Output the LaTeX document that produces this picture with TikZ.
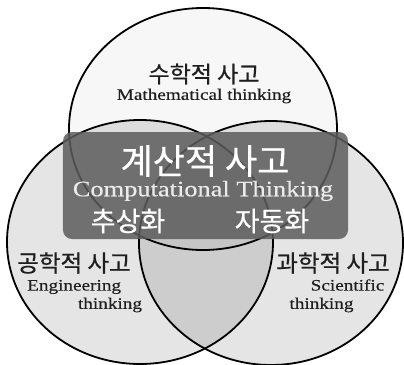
\documentclass[tikz,border=0pt]{standalone}
\usepackage{fontspec}
\setmainfont[FakeStretch=1.2]{Liberation Serif}
\newfontfamily\enb[FakeStretch=1.2,FakeBold=0.35]{Liberation Serif}
\newfontfamily\kr[FakeBold=0.6]{Noto Sans CJK KR}
\definecolor{rectgray}{HTML}{5C5C5C}
\definecolor{inkgray}{HTML}{1E1E1E}
\tikzset{
  venn/.style={line width=1.8bp, draw=black},
  krtext/.style={inner sep=0pt, font=\kr, text=inkgray},
  entext/.style={inner sep=0pt, text=inkgray},
  whitetext/.style={inner sep=0pt, text=white},
}
\begin{document}
\begin{tikzpicture}[x=1bp,y=-1bp]
\useasboundingbox (0,0) rectangle (404,365);
\fill[white] (0,0) rectangle (404,365);
% fills
\fill[black,opacity=0.03] (203,129) ellipse [x radius=134,y radius=121];
\fill[black,opacity=0.10] (140,242) ellipse [x radius=133,y radius=122];
\fill[black,opacity=0.10] (271,243) ellipse [x radius=132,y radius=122];
% outlines
\draw[venn] (203,129) ellipse [x radius=134,y radius=121];
\draw[venn] (140,242) ellipse [x radius=133,y radius=122];
\draw[venn] (271,243) ellipse [x radius=132,y radius=122];
% central box
\node[fill=rectgray, fill opacity=0.85, rounded corners=9bp, minimum width=285bp, minimum height=107bp, inner sep=0pt] (box) at (205.5,185.5) {};
% texts
\node[krtext, font=\kr\fontsize{23bp}{27bp}\selectfont] (mathkr) at (204,74) {수학적 사고};
\node[entext, font=\enb\fontsize{16bp}{19bp}\selectfont] (mathen) at (204,96) {Mathematical thinking};
\node[whitetext, font=\kr\fontsize{35bp}{40bp}\selectfont] (ctkr) at (205,161) {계산적 사고};
\node[whitetext, text=white!92!black, font=\enb\fontsize{22bp}{26bp}\selectfont] (cten) at (203,191) {Computational Thinking};
\node[whitetext, font=\kr\fontsize{27bp}{31bp}\selectfont] (abs) at (128,221) {추상화};
\node[whitetext, font=\kr\fontsize{27bp}{31bp}\selectfont] (auto) at (272,221) {자동화};
\node[krtext, font=\kr\fontsize{23.5bp}{28bp}\selectfont] (engkr) at (74,263) {공학적 사고};
\node[entext, anchor=west, font=\enb\fontsize{16bp}{19bp}\selectfont] (engen1) at (27,287) {Engineering};
\node[entext, font=\enb\fontsize{16bp}{19bp}\selectfont] (engen2) at (110,305) {thinking};
\node[krtext, font=\kr\fontsize{23.5bp}{28bp}\selectfont] (scikr) at (333,263) {과학적 사고};
\node[entext, font=\enb\fontsize{16bp}{19bp}\selectfont] (scien1) at (347.5,285) {Scientific};
\node[entext, font=\enb\fontsize{16bp}{19bp}\selectfont] (scien2) at (321.5,305) {thinking};
\end{tikzpicture}
\end{document}
